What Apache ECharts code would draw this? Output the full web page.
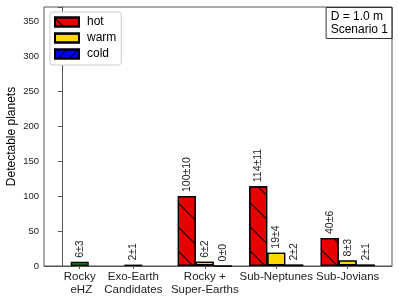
<!DOCTYPE html>
<html>
<head>
<meta charset="utf-8">
<script src="https://cdn.jsdelivr.net/npm/echarts@6/dist/echarts.min.js"></script>
<style>
html,body{margin:0;padding:0;background:#fff;}
#chart{width:399px;height:303px;}
</style>
</head>
<body>
<div id="chart"></div>
<script>
// ---- data ----
const categories = ['Rocky\n eHZ', 'Exo-Earth\nCandidates', 'Rocky +\nSuper-Earths', 'Sub-Neptunes', 'Sub-Jovians'];
const categoryPos = [0.25, 1, 2, 3, 4];
const rockyPos = [0.25, 1];
const rockyVals = [6, 2];
const rockyErr = [3, 1];
const groupPos = [2, 3, 4];
const hotVals = [100, 114, 40];
const hotErr = [10, 11, 6];
const warmVals = [6, 19, 8];
const warmErr = [2, 4, 3];
const coldVals = [0, 2, 2];
const coldErr = [0, 2, 1];
const yTicks = [0, 50, 100, 150, 200, 250, 300, 350];

const FONT = 'Liberation Sans, Arial, Helvetica, sans-serif';
const chart = echarts.init(document.getElementById('chart'), null, {renderer: 'canvas'});

function pairs(xs, ys) { return xs.map((x, i) => [x, ys[i]]); }
function lbl(vals, errs) {
  return {
    show: true, position: 'top', rotate: 90, align: 'left', verticalAlign: 'middle',
    distance: 4, fontSize: 10.5, color: '#222', fontFamily: FONT,
    formatter: p => vals[p.dataIndex] + '±' + errs[p.dataIndex]
  };
}
const border = {borderColor: '#000', borderWidth: 1.2};

const xBase = {
  type: 'value', min: -0.25, max: 4.62,
  splitLine: {show: false}
};

chart.setOption({
  animation: false,
  backgroundColor: '#fff',
  grid: {left: 44, right: 7, top: 7, bottom: 37, show: true, borderColor: '#555', borderWidth: 1,
         containLabel: false, outerBoundsMode: 'none'},
  title: {
    text: 'D = 1.0 m\nScenario 1',
    right: 7, top: 7,
    padding: [3, 4, 3, 5],
    borderColor: '#333', borderWidth: 1,
    textStyle: {fontSize: 12, fontWeight: 'normal', color: '#000', fontFamily: FONT, lineHeight: 13}
  },
  legend: {
    data: ['hot', 'warm', 'cold'],
    orient: 'vertical',
    left: 50, top: 12,
    padding: [4, 5, 5, 4],
    itemWidth: 24, itemHeight: 9, itemGap: 4,
    icon: 'rect',
    borderColor: '#ccc', borderWidth: 1, borderRadius: 3,
    backgroundColor: '#fff',
    textStyle: {fontSize: 12, color: '#000', fontFamily: FONT, lineHeight: 12, padding: [0, 0, 0, 3]}
  },
  xAxis: [
    Object.assign({}, xBase, {
      axisLine: {lineStyle: {color: '#555', width: 1}},
      axisTick: {show: true, length: 3, customValues: categoryPos, lineStyle: {color: '#555'}},
      axisLabel: {
        customValues: categoryPos, margin: 4,
        fontSize: 11.5, color: '#222', fontFamily: FONT, lineHeight: 13.5,
        formatter: v => { const i = categoryPos.indexOf(v); return i >= 0 ? categories[i] : ''; }
      }
    }),
    Object.assign({}, xBase, {show: false})
  ],
  yAxis: {
    type: 'value', min: 0, max: 370, interval: 50,
    name: 'Detectable planets', nameLocation: 'middle', nameGap: 26, nameMoveOverlap: false,
    nameTextStyle: {fontSize: 12, color: '#000', fontFamily: FONT},
    splitLine: {show: false},
    axisLine: {show: true, lineStyle: {color: '#555', width: 1}},
    axisTick: {show: true, length: 4, lineStyle: {color: '#555'}},
    axisLabel: {
      margin: 5, fontSize: 9.5, color: '#222', fontFamily: FONT,
      formatter: v => yTicks.indexOf(v) >= 0 ? String(v) : ''
    }
  },
  series: [
    {
      name: 'rocky', type: 'bar', xAxisIndex: 1, barWidth: 18,
      data: pairs(rockyPos, rockyVals),
      itemStyle: Object.assign({color: '#008000'}, border),
      label: lbl(rockyVals, rockyErr)
    },
    {
      name: 'hot', type: 'bar', xAxisIndex: 0, barWidth: 18, barGap: '0%',
      data: pairs(groupPos, hotVals),
      itemStyle: Object.assign({
        color: '#e60000',
        decal: {symbol: 'rect', symbolSize: 1, dashArrayX: [1, 0], dashArrayY: [1, 16], rotation: Math.PI / 4, color: '#000'}
      }, border),
      label: lbl(hotVals, hotErr)
    },
    {
      name: 'warm', type: 'bar', xAxisIndex: 0, barWidth: 18, barGap: '0%',
      data: pairs(groupPos, warmVals),
      itemStyle: Object.assign({
        color: '#ffd700',
        decal: {symbol: 'rect', symbolSize: 1, dashArrayX: [1, 0], dashArrayY: [1, 10], rotation: 0, color: '#000'}
      }, border),
      label: lbl(warmVals, warmErr)
    },
    {
      name: 'cold', type: 'bar', xAxisIndex: 0, barWidth: 18, barGap: '0%',
      data: pairs(groupPos, coldVals),
      itemStyle: Object.assign({
        color: '#0000ff',
        decal: {symbol: 'rect', symbolSize: 1, dashArrayX: [1, 0], dashArrayY: [1, 7], rotation: -Math.PI / 4, color: '#000'}
      }, border),
      label: lbl(coldVals, coldErr)
    }
  ]
});
</script>
</body>
</html>
